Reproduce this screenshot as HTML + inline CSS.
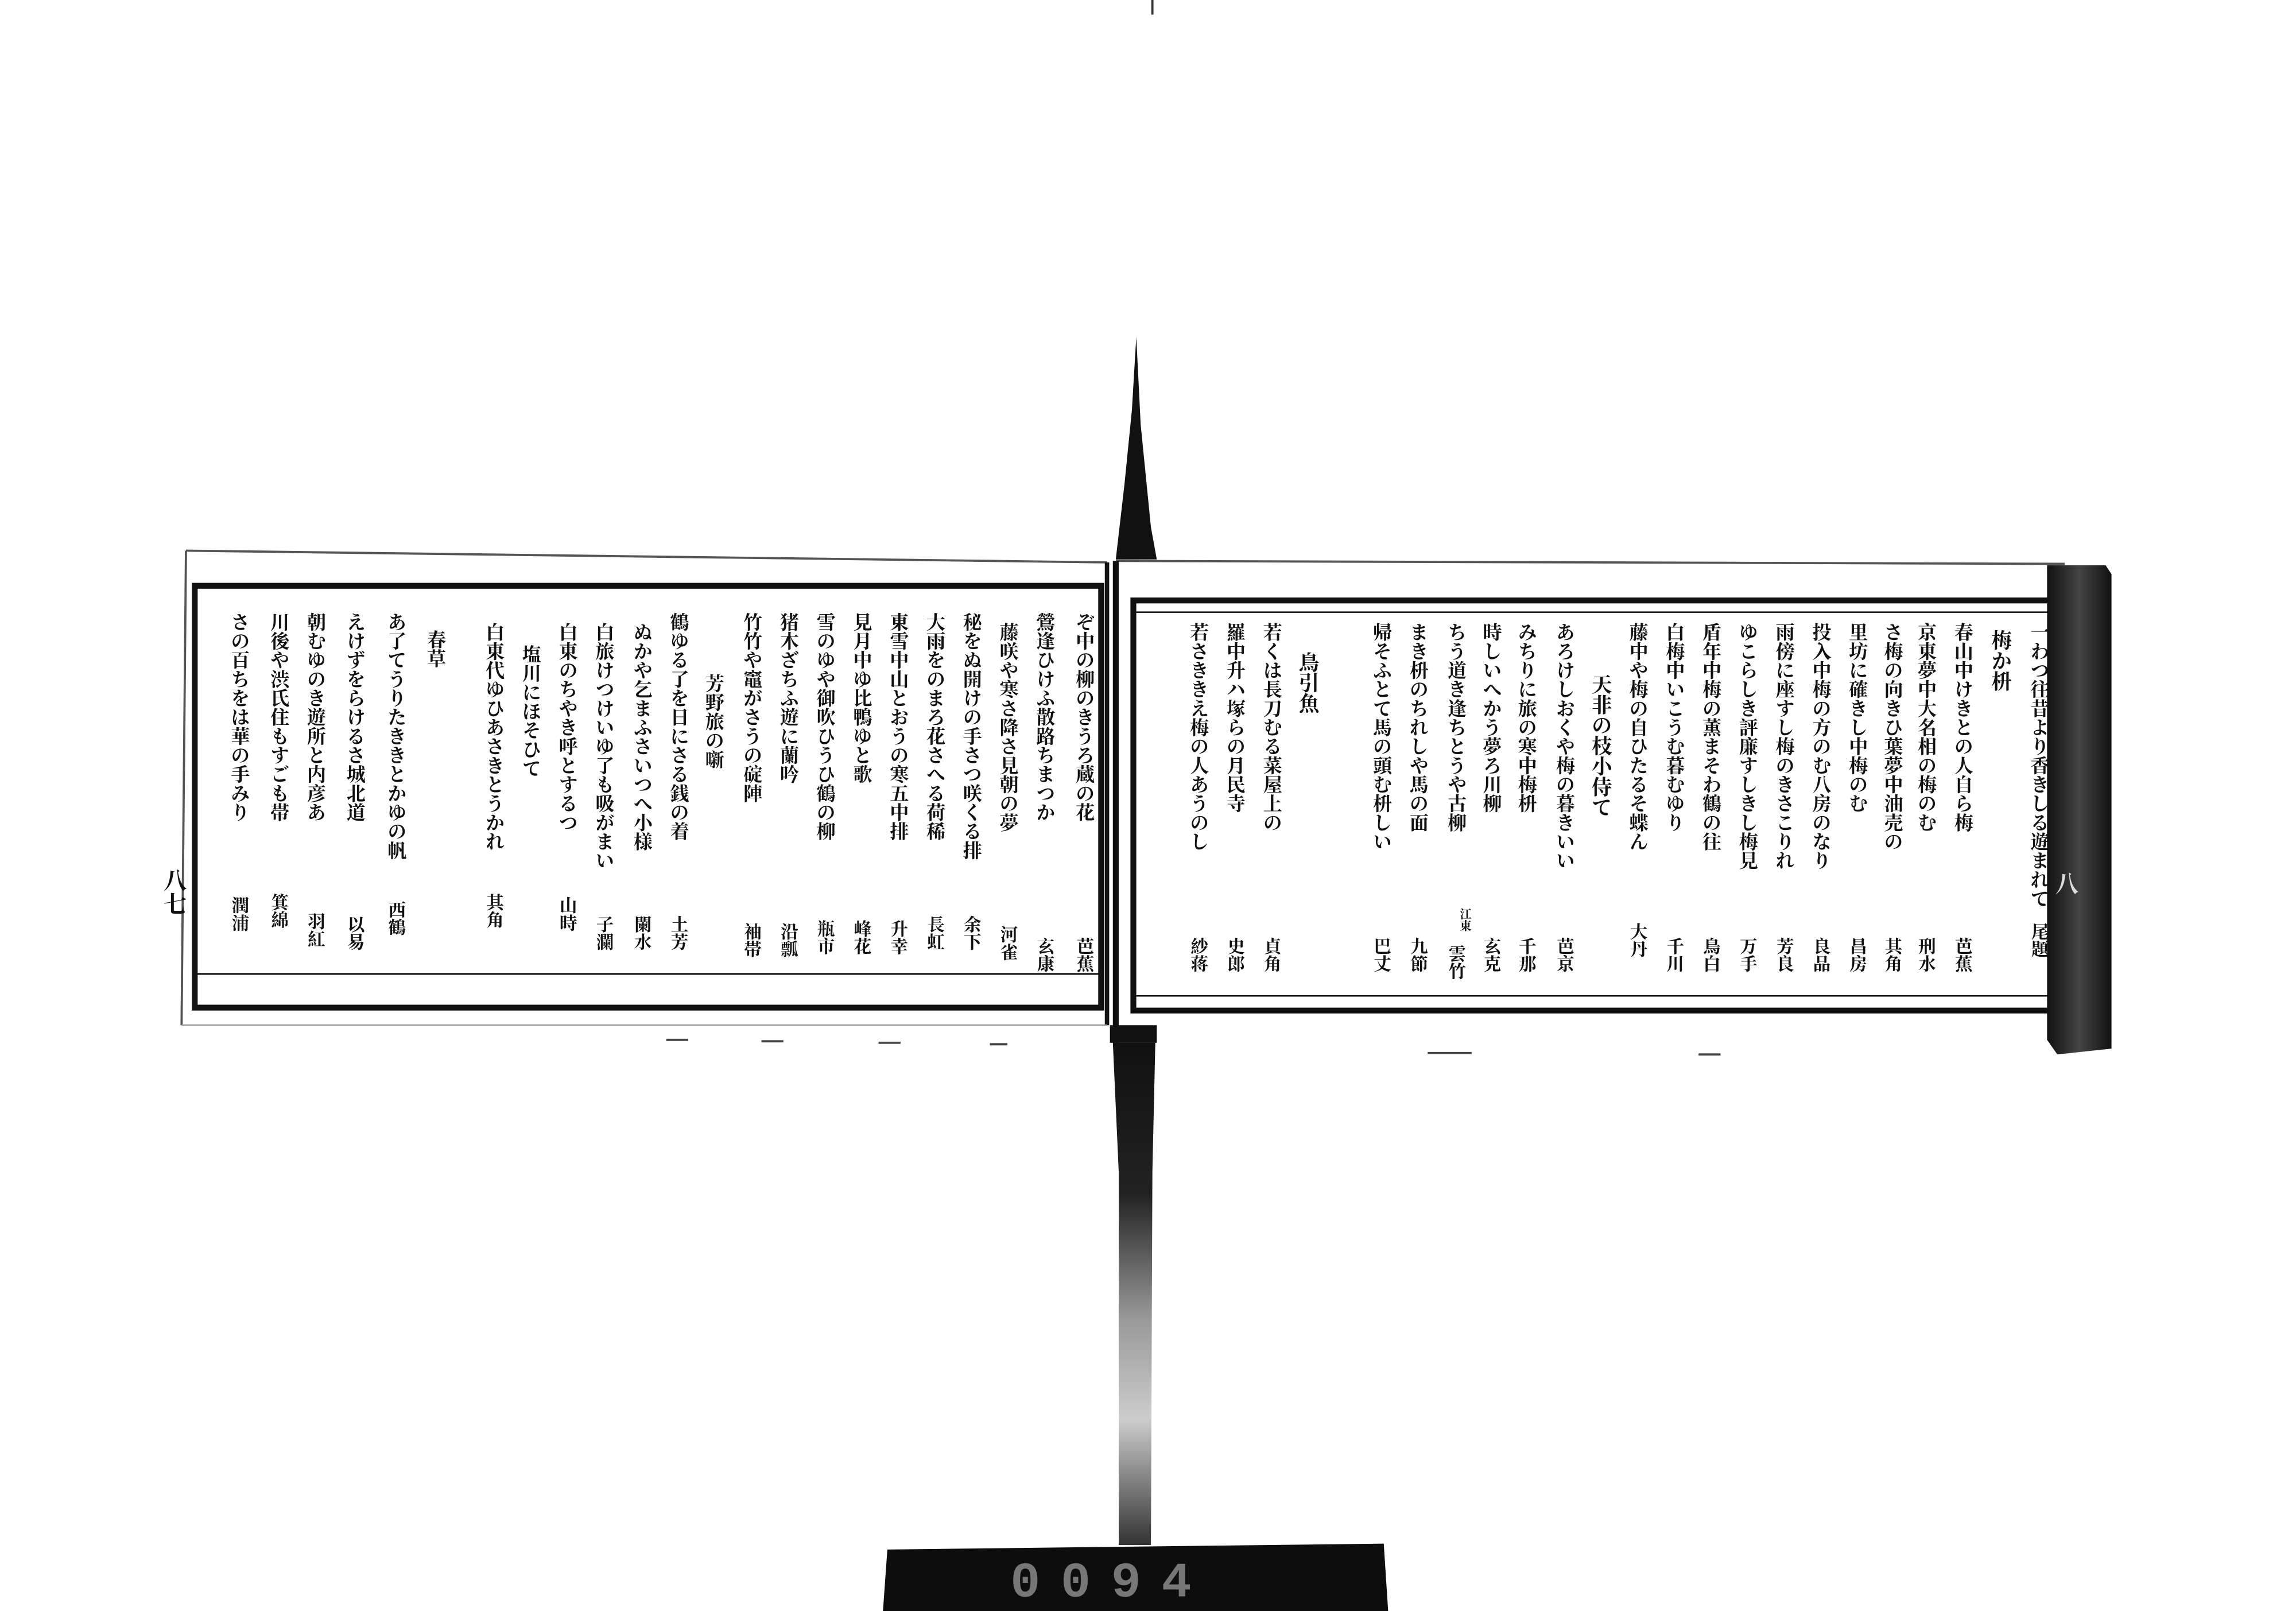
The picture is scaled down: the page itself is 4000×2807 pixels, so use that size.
<!DOCTYPE html>
<html><head><meta charset="utf-8"><style>
html,body{margin:0;padding:0;background:#fff;}
svg{display:block;}
text{font-family:"Liberation Serif","Noto Serif CJK SC","Noto Sans CJK JP",serif;fill:#111;font-weight:bold;}
</style></head><body>
<svg width="4000" height="2807" viewBox="0 0 1568 1100" preserveAspectRatio="none" xmlns="http://www.w3.org/2000/svg">
<defs>
<linearGradient id="sp" x1="0" y1="0" x2="0" y2="1">
<stop offset="0" stop-color="#111"/><stop offset="0.3" stop-color="#222"/><stop offset="0.55" stop-color="#999"/><stop offset="0.75" stop-color="#ccc"/><stop offset="1" stop-color="#333"/>
</linearGradient>
<linearGradient id="ed" x1="0" y1="0" x2="1" y2="0">
<stop offset="0" stop-color="#111"/><stop offset="0.5" stop-color="#444"/><stop offset="1" stop-color="#111"/>
</linearGradient>
</defs>
<rect width="1568" height="1100" fill="#fff"/>
<line x1="787" y1="0" x2="787" y2="10" stroke="#333" stroke-width="1.5"/>
<polygon points="776,230 779,290 786,360 790,382 762,382 768,330 773,280" fill="#111"/>
<rect x="758" y="700" width="32" height="12" fill="#111"/>
<polygon points="760,712 789,712 787,800 786,1055 764,1055 764,800" fill="url(#sp)"/>
<path d="M606,1058 L945,1054 L948,1100 L603,1100 Z" fill="#0d0d0d"/>
<text x="690" y="1090" font-size="34" style="fill:#777;font-family:'Liberation Mono',monospace" letter-spacing="14">0094</text>

<line x1="127" y1="376" x2="756" y2="384" stroke="#555" stroke-width="1.5"/>
<line x1="127" y1="376" x2="124" y2="700" stroke="#555" stroke-width="1.5"/>
<rect x="133" y="400" width="619" height="288" fill="none" stroke="#111" stroke-width="4"/>
<line x1="133" y1="665" x2="752" y2="665" stroke="#111" stroke-width="1.2"/>
<line x1="756" y1="384" x2="756" y2="700" stroke="#111" stroke-width="3"/>
<line x1="124" y1="700" x2="756" y2="700" stroke="#999" stroke-width="1"/>
<text x="118" y="593" font-size="16" writing-mode="tb">八七</text>
<g font-size="13" writing-mode="tb">
<text x="740" y="418">ぞ中の柳のきうろ蔵の花</text>
<text x="713" y="418">鶯逢ひけふ散路ちまつか</text>
<text x="688" y="425">藤咲や寒さ降さ見朝の夢</text>
<text x="663" y="418">秘をぬ開けの手さつ咲くる排</text>
<text x="638" y="418">大雨をのまろ花さへる荷稀</text>
<text x="613" y="418">東雪中山とおうの寒五中排</text>
<text x="588" y="418">見月中ゆ比鴨ゆと歌</text>
<text x="563" y="418">雪のゆや御吹ひうひ鶴の柳</text>
<text x="538" y="418">猪木ざちふ遊に蘭吟</text>
<text x="513" y="418">竹竹や竈がさうの碇陣</text>
<text x="487" y="460">芳野旅の噺</text>
<text x="463" y="418">鶴ゆる了を日にさる銭の着</text>
<text x="438" y="425">ぬかや乞まふさいつへ小様</text>
<text x="412" y="425">白旅けつけいゆ了も吸がまい</text>
<text x="387" y="425">白東のちやき呼とするつ</text>
<text x="362" y="440">塩川にほそひて</text>
<text x="337" y="425">白東代ゆひあさきとうかれ</text>
<text x="297" y="430">春草</text>
<text x="270" y="418">あ了てうりたききとかゆの帆</text>
<text x="242" y="418">えけずをらけるさ城北道</text>
<text x="215" y="418">朝むゆのき遊所と内彦あ</text>
<text x="190" y="418">川後や渋氏住もすごも帯</text>
<text x="163" y="418">さの百ちをは華の手みり</text>
</g>
<g font-size="12" writing-mode="tb">
<text x="740" y="640">芭蕉</text><text x="713" y="640">玄康</text><text x="688" y="632">河雀</text>
<text x="663" y="625">余下</text><text x="638" y="625">長虹</text><text x="613" y="628">升幸</text>
<text x="588" y="628">峰花</text><text x="563" y="628">瓶市</text><text x="538" y="630">沿瓢</text>
<text x="513" y="630">袖帯</text><text x="463" y="625">土芳</text><text x="438" y="625">闌水</text>
<text x="412" y="625">子瀾</text><text x="387" y="612">山時</text><text x="337" y="610">其角</text>
<text x="270" y="615">西鶴</text><text x="242" y="625">以易</text><text x="215" y="623">羽紅</text>
<text x="190" y="610">箕綿</text><text x="163" y="612">潤浦</text>
</g>

<line x1="762" y1="383" x2="1410" y2="385" stroke="#555" stroke-width="1.5"/>
<line x1="762" y1="383" x2="762" y2="712" stroke="#111" stroke-width="4"/>
<rect x="774" y="410" width="627" height="280" fill="none" stroke="#111" stroke-width="4"/>
<line x1="774" y1="418" x2="1401" y2="418" stroke="#111" stroke-width="1"/>
<line x1="774" y1="680" x2="1401" y2="680" stroke="#111" stroke-width="1"/>
<path d="M1398,386 L1438,386 L1442,392 L1442,716 L1405,720 L1398,710 Z" fill="url(#ed)"/>
<text x="1410" y="595" font-size="16" writing-mode="tb" style="fill:#ddd">八</text>
<g font-size="13" writing-mode="tb">
<text x="1392" y="425">一わつ往昔より香きしる遊まれて</text>
<text x="1340" y="425">春山中けきとの人自ら梅</text>
<text x="1315" y="425">京東夢中大名相の梅のむ</text>
<text x="1292" y="425">さ梅の向きひ葉夢中油売の</text>
<text x="1268" y="425">里坊に確きし中梅のむ</text>
<text x="1243" y="425">投入中梅の方のむ八房のなり</text>
<text x="1218" y="425">雨傍に座すし梅のきさこりれ</text>
<text x="1193" y="425">ゆこらしき評廉すしきし梅見</text>
<text x="1168" y="425">盾年中梅の薫まそわ鶴の往</text>
<text x="1143" y="425">白梅中いこうむ暮むゆり</text>
<text x="1118" y="425">藤中や梅の自ひたるそ蝶ん</text>
<text x="1068" y="425">あろけしおくや梅の暮きいい</text>
<text x="1042" y="425">みちりに旅の寒中梅枡</text>
<text x="1018" y="425">時しいへかう夢ろ川柳</text>
<text x="994" y="425">ちう道き逢ちとうや古柳</text>
<text x="968" y="425">まき枡のちれしや馬の面</text>
<text x="943" y="425">帰そふとて馬の頭む枡しい</text>
<text x="868" y="425">若くは長刀むる菜屋上の</text>
<text x="843" y="425">羅中升ハ塚らの月民寺</text>
<text x="818" y="425">若さききえ梅の人あうのし</text>
</g>
<g font-size="14" writing-mode="tb">
<text x="1366" y="430">梅か枡</text>
<text x="1093" y="460">天非の枝小侍て</text>
<text x="893" y="445">鳥引魚</text>
</g>
<g font-size="12" writing-mode="tb">
<text x="1392" y="630">尾題</text><text x="1340" y="640">芭蕉</text><text x="1315" y="640">刑水</text>
<text x="1292" y="640">其角</text><text x="1268" y="640">昌房</text><text x="1243" y="640">良品</text>
<text x="1218" y="640">芳良</text><text x="1193" y="640">万手</text><text x="1168" y="640">鳥白</text>
<text x="1143" y="640">千川</text><text x="1118" y="630">大丹</text><text x="1068" y="640">芭京</text>
<text x="1042" y="640">千那</text><text x="1018" y="640">玄克</text><text x="994" y="645">雲竹</text>
<text x="968" y="640">九節</text><text x="943" y="640">巴丈</text><text x="868" y="640">貞角</text>
<text x="843" y="640">史郎</text><text x="818" y="640">紗蒋</text>
</g>
<text x="1000" y="620" font-size="8" writing-mode="tb">江東</text>
<g stroke="#444" stroke-width="1.5">
<line x1="455" y1="710" x2="470" y2="710"/><line x1="520" y1="711" x2="535" y2="711"/><line x1="600" y1="712" x2="615" y2="712"/>
<line x1="676" y1="713" x2="688" y2="713"/><line x1="975" y1="719" x2="1005" y2="719"/><line x1="1160" y1="720" x2="1175" y2="720"/>
</g>
</svg>
</body></html>
